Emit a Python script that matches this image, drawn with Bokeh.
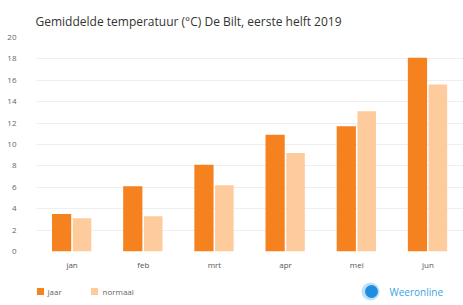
from bokeh.plotting import figure
from bokeh.layouts import column
from bokeh.models import ColumnDataSource, Range1d, FixedTicker
from bokeh.core.properties import value
from bokeh.transform import dodge
from bokeh.embed import file_html
from bokeh.resources import INLINE

months = ["jan", "feb", "mrt", "apr", "mei", "jun"]
jaar = [3.5, 6.1, 8.1, 10.9, 11.7, 18.1]
normaal = [3.1, 3.3, 6.2, 9.2, 13.1, 15.6]
y_ticks = [0, 2, 4, 6, 8, 10, 12, 14, 16, 18, 20]
legend_labels = ["jaar", "normaal"]
title_text = "Gemiddelde temperatuur (°C) De Bilt, eerste helft 2019"
brand_text = "Weeronline"

FONT = "Open Sans"
C_JAAR = "#F5821F"
C_NORM = "#FDCB9C"
x_pos = list(range(len(months)))
src = ColumnDataSource(dict(x=x_pos, jaar=jaar, normaal=normaal))

p = figure(width=463, height=280, output_backend="svg", toolbar_location=None,
           x_range=Range1d(-0.5, 5.5), y_range=Range1d(0, 20), title=title_text,
           min_border_left=36, min_border_right=0, min_border_top=37, min_border_bottom=29)
p.outline_line_color = None
p.title.text_font = FONT
p.title.text_font_size = "12px"
p.title.text_font_style = "normal"
p.title.text_color = "#333333"
p.title.offset = -1
p.title.standoff = 16

p.vbar(x=dodge("x", -0.147, range=p.x_range), top="jaar", width=0.27, source=src,
       fill_color=C_JAAR, line_color=None)
p.vbar(x=dodge("x", 0.14, range=p.x_range), top="normaal", width=0.26, source=src,
       fill_color=C_NORM, line_color=None)

p.xgrid.grid_line_color = None
p.ygrid.grid_line_color = "#EFEFEF"
p.ygrid.ticker = FixedTicker(ticks=y_ticks)

p.yaxis.ticker = FixedTicker(ticks=y_ticks)
p.yaxis.axis_line_color = None
p.yaxis.major_tick_line_color = None
p.yaxis.minor_tick_line_color = None
p.yaxis.major_label_standoff = 14
p.yaxis.major_label_text_font = FONT
p.yaxis.major_label_text_font_size = "8px"
p.yaxis.major_label_text_color = "#666666"

p.xaxis.ticker = FixedTicker(ticks=x_pos)
p.xaxis.major_label_overrides = {i: m for i, m in enumerate(months)}
p.xaxis.axis_line_color = None
p.xaxis.major_tick_line_color = None
p.xaxis.minor_tick_line_color = None
p.xaxis.major_label_standoff = 1
p.xaxis.major_label_text_font = FONT
p.xaxis.major_label_text_font_size = "8px"
p.xaxis.major_label_text_color = "#555555"

# legend / brand strip (pixel-like data units, frame spans x 36..463)
q = figure(width=463, height=25, output_backend="svg", toolbar_location=None,
           x_range=Range1d(36, 463), y_range=Range1d(0, 25),
           min_border=0, min_border_left=36, x_axis_type=None, y_axis_type=None)
q.outline_line_color = None
q.grid.visible = False
leg = ColumnDataSource(dict(x=[40, 94], y=[14, 14], c=[C_JAAR, C_NORM],
                            tx=[47, 102], label=legend_labels))
q.rect(x="x", y="y", width=7, height=7, fill_color="c", line_color=None, source=leg)
q.text(x="tx", y="y", text="label", source=leg, text_font=value(FONT),
       text_font_size="8px", text_color="#666666", text_baseline="middle")
q.scatter(x=[370], y=[14], size=18, fill_color="#BFE0F7", line_color=None)
q.scatter(x=[371], y=[14], size=13, fill_color="#1E8FE0", line_color=None)
q.text(x=[389], y=[14], text=[brand_text], text_font=value(FONT),
       text_font_size="10px", text_color="#3AA3E3", text_baseline="middle")

open("out.html", "w").write(file_html(column(p, q, spacing=0), INLINE))
